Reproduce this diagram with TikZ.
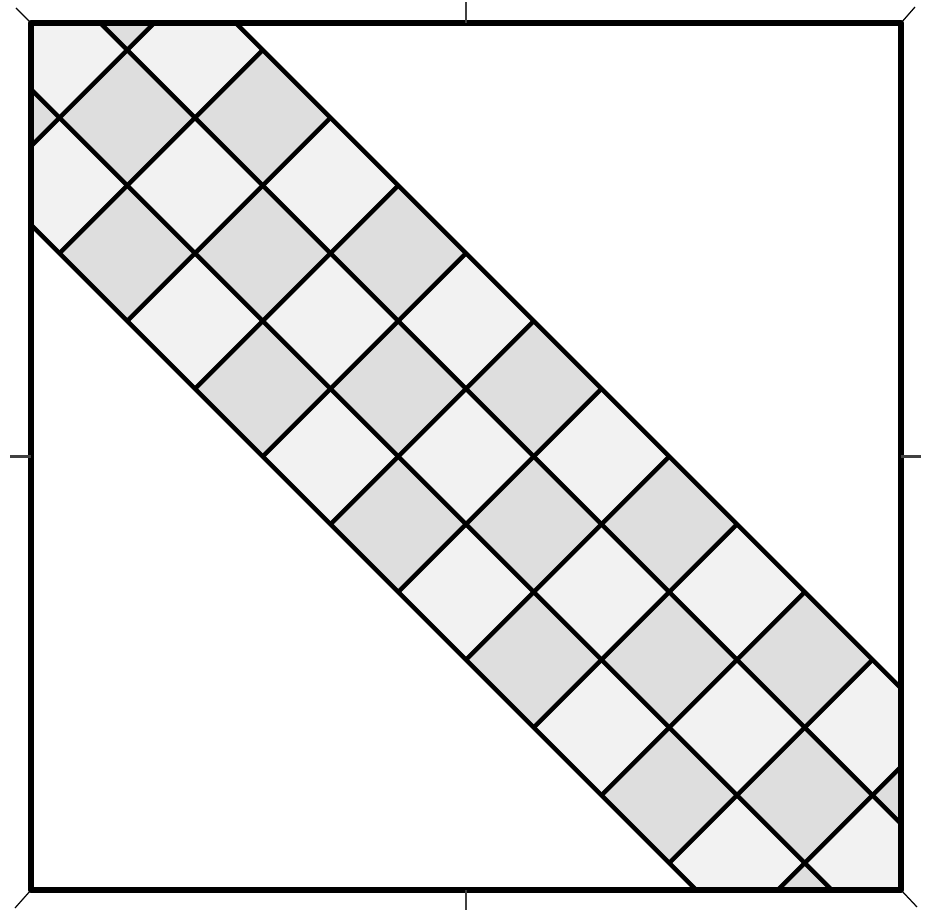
\documentclass[tikz,border=0pt]{standalone}
\begin{document}
\begin{tikzpicture}[line join=round, line cap=butt,
		gridline/.style={line width=1.28pt, black},
		frameline/.style={line width=1.6pt, black, line cap=rect},
		tickline/.style={line width=0.6pt, black!75},
		cornertick/.style={line width=0.35pt, black}]
			\def\a{4.35}\def\b{4.335}\def\h{0.6775}
			\useasboundingbox (-4.66,-4.555) rectangle (4.66,4.565);
			\path
			(-\a,-\b) coordinate (A)
			(\a,-\b) coordinate (B)
			(\a,\b) coordinate (C)
			(-\a,\b) coordinate (D)
			;
			\begin{scope}
				\clip (A) rectangle (C);
				% checker cells
				\foreach \i in {-1,0,1} \foreach \j in {-7,...,7} {
					\pgfmathsetmacro\xc{\h*(\i+\j)}
					\pgfmathsetmacro\yc{\h*(\i-\j)}
					\pgfmathtruncatemacro\k{mod(abs(\i+\j),2)}
					\ifnum\k=0 \def\col{black!5}\else\def\col{black!13}\fi
					\fill[\col, shift={(\xc,\yc)}] (\h,0)--(0,\h)--(-\h,0)--(0,-\h)--cycle;
				}
				\foreach \c in {-3,-1,1,3}
				\draw[gridline] ({-5},{\c*\h+5})--({5},{\c*\h-5});
				\foreach \n in {-11,-9,...,11}
				\draw[gridline] ({\h*(\n-3)/2},{\h*(-3-\n)/2})--({\h*(\n+3)/2},{\h*(3-\n)/2});
			\end{scope}
			\draw[frameline] (A) rectangle (C);
			\draw[tickline] (0,\b)--++(0,0.21) (0,-\b)--++(0,-0.2) (-\a,0)--++(-0.21,0) (\a,0)--++(0.2,0);
			\draw[cornertick] (A)--++(-0.16,-0.18) (B)--++(0.16,-0.17) (C)--++(0.14,0.16) (D)--++(-0.15,0.15);
		\end{tikzpicture}
\end{document}
